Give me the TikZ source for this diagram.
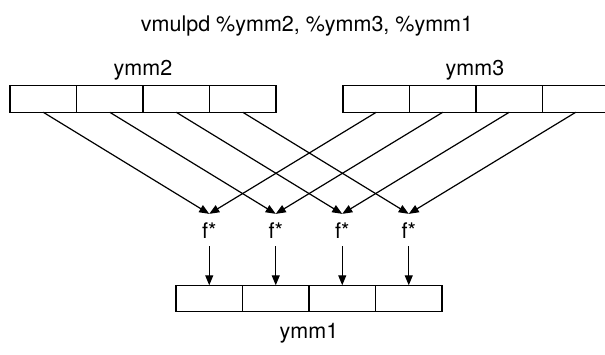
\documentclass[tikz,border=0pt]{standalone}
\usepackage{fontspec}
\setmainfont{TeX Gyre Heros}
\usetikzlibrary{arrows.meta}
\begin{document}
\begin{tikzpicture}[x=0.5pt, y=-0.5pt,
  every node/.style={font=\fontsize{10.75pt}{12pt}\selectfont},
  cell/.style={draw, line width=0.6pt, rectangle, minimum width=33.25pt,
               minimum height=13.25pt, inner sep=0pt, outer sep=0pt},
  op/.style={anchor=base, inner xsep=2pt, inner ysep=4pt},
  flow/.style={line width=0.6pt, -{Triangle[length=5pt,width=4pt]}},
  lbl/.style={anchor=base}]
\useasboundingbox (0,0) rectangle (605,354);

% instruction
\node[lbl] (title) at (307,31) {vmulpd \%ymm2, \%ymm3, \%ymm1};

% source register ymm2
\node[lbl] (l2) at (143,75.5) {ymm2};
\foreach \i/\x in {1/43.25, 2/109.75, 3/176.25, 4/242.75}
  \node[cell] (a\i) at (\x,99) {};

% source register ymm3
\node[lbl] (l3) at (475,75.5) {ymm3};
\foreach \i/\x in {1/376.25, 2/442.75, 3/509.25, 4/575.75}
  \node[cell] (b\i) at (\x,99) {};

% destination register ymm1
\foreach \i/\x in {1/209.25, 2/275.75, 3/342.25, 4/408.75}
  \node[cell] (c\i) at (\x,298.5) {};
\node[lbl] (l1) at (309,338) {ymm1};

% lane-wise multiply
\foreach \i/\x in {1/209.25, 2/275.75, 3/342.25, 4/408.75}
  \node[op] (f\i) at (\x,238) {f*};

\foreach \i in {1,...,4} {
  \draw[flow] (a\i.south) -- (f\i.north);
  \draw[flow] (b\i.south) -- (f\i.north);
  \draw[flow] (f\i.south) -- (c\i.north);
}
\end{tikzpicture}
\end{document}
